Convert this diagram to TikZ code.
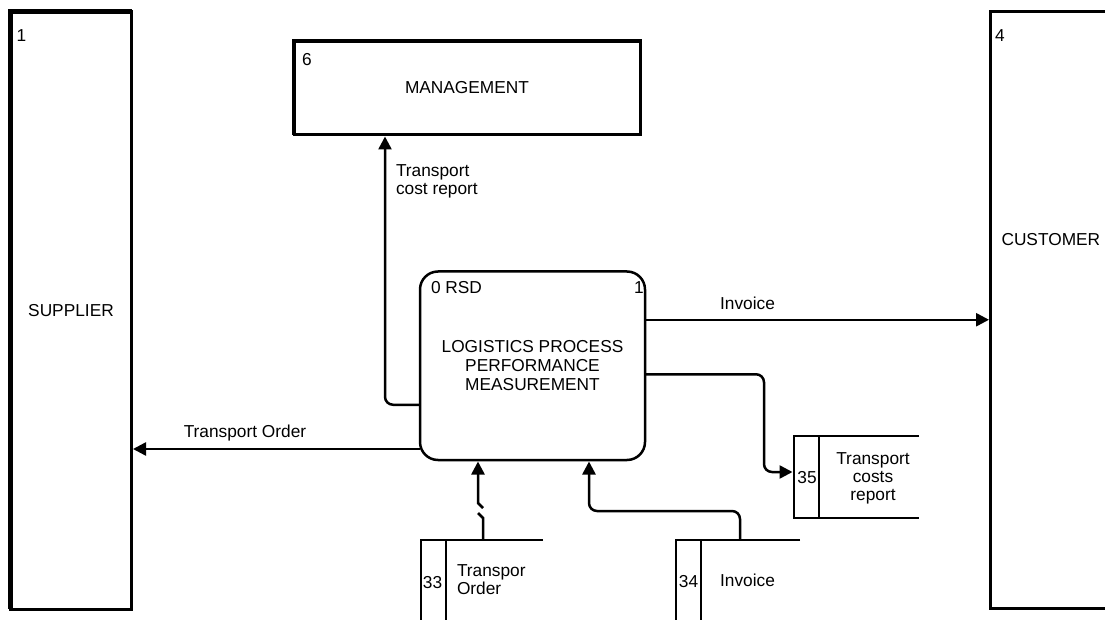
\documentclass[tikz,border=0pt]{standalone}
\usepackage{fontspec}
\setmainfont{Liberation Sans}
\usetikzlibrary{calc,arrows.meta}
\tikzset{
	entity/.style={draw, line width=3pt, inner sep=0pt, outer sep=0pt, font=\fontsize{17.3}{19}\selectfont},
	procbox/.style={draw, line width=2.5pt, rounded corners=18pt, inner sep=0pt, outer sep=0pt, align=center, font=\fontsize{17.3}{19}\selectfont},
	store/.style={inner sep=0pt, outer sep=0pt},
	storeline/.style={line width=2.5pt},
	flow/.style={line width=2.5pt, rounded corners=8pt, shorten >=1.5pt, -{Triangle[length=13pt,width=13pt]}},
	lbl/.style={inner sep=0pt, outer sep=0pt, text height=12.4pt, text depth=0pt, font=\fontsize{17.3}{18}\selectfont},
	txt/.style={inner sep=0pt, outer sep=0pt, font=\fontsize{17.3}{18}\selectfont},
}

\begin{document}
\begin{tikzpicture}[x=1pt, y=-1pt]
			%%%%% START %%%%%
			\useasboundingbox (0,0) rectangle (1105,620);
			
			\node[entity, minimum width=121pt, minimum height=597pt] (sup) at (71,310.5) {SUPPLIER};
			\draw[line width=5pt] (sup.south west) -- (sup.north west) -- (sup.north east);
			\node[lbl] (supnum) at ($(sup.north west)+(11,23)$) {1};
			
			\node[entity, minimum width=129.5pt, minimum height=597pt] (cust) at (1055.25,310) {};
			\node[lbl] (custnum) at ($(cust.north west)+(9.5,23.5)$) {4};
			\node[lbl, anchor=west] (custname) at ($(cust.west)+(11,-71)$) {CUSTOMER};
			
			\node[entity, minimum width=346pt, minimum height=94pt] (mgmt) at (467,88) {MANAGEMENT};
			\draw[line width=4.5pt] (mgmt.south west) -- (mgmt.north west) -- (mgmt.north east);
			\node[lbl] (mgmtnum) at ($(mgmt.north west)+(13,18)$) {6};
			
			\node[procbox, minimum width=225pt, minimum height=188.5pt] (proc) at (532.5,365.75) {LOGISTICS PROCESS\\PERFORMANCE\\MEASUREMENT};
			\node[lbl, anchor=west] (procid) at ($(proc.north west)+(11,15.5)$) {0 RSD};
			\node[lbl] (procnum) at ($(proc.north east)+(-6,15.5)$) {1};
			
			\node[store, minimum width=122pt, minimum height=110pt] (ds33) at (482,595) {};
			\node[store, minimum width=124pt, minimum height=110pt] (ds34) at (738,595) {};
			\node[store, minimum width=125pt, minimum height=82pt] (ds35) at (856.5,477) {};
			\foreach \s in {ds33,ds34,ds35}
				\draw[storeline] (\s.north east) -- (\s.north west) -- (\s.south west) -- (\s.south east)
					($(\s.north west)+(25,0)$) -- ($(\s.south west)+(25,0)$);
			
			\node[lbl] (ds33num) at ($(ds33.north west)+(11.5,42.5)$) {33};
			\node[txt, anchor=north west, align=left] (ds33name) at ($(ds33.north west)+(36,25)$) {Transpor\\Order};
			\node[lbl] (ds34num) at ($(ds34.north west)+(12.5,41.5)$) {34};
			\node[lbl] (ds34name) at ($(ds34.north west)+(71.5,40)$) {Invoice};
			\node[lbl] (ds35num) at ($(ds35.west)+(13,0.5)$) {35};
			\node[txt, anchor=north, align=center] (ds35name) at ($(ds35.north west)+(79,17)$) {Transport\\costs\\report};
			
			% flows
			\draw[flow] ($(proc.west)+(0,39)$) -| ($(mgmt.south west)+(91,0)$);
			\node[txt, anchor=north west, align=left] (lcost) at (396,165) {Transport\\cost report};
			
			\draw[flow] ($(proc.east)+(0,-46)$) coordinate (inv) -- (inv -| cust.west);
			\node[lbl] (linv) at (747.5,303.5) {Invoice};
			
			\draw[flow] ($(proc.east)+(0,8.5)$) -- ++(119,0) |- ($(ds35.west)+(0,-5)$);
			
			\draw[flow] ($(proc.south west)+(0,-11)$) coordinate (tro) -- (tro -| sup.east);
			\node[lbl] (ltro) at (245,431) {Transport Order};
			
			\draw[storeline] ($(ds33.north west)+(62,0)$) -- ++(0,-22) -- ++(-5,-5);
			\draw[flow, sharp corners] ($(ds33.north west)+(62,-32)$) -- ++(-5,-5) -- ($(proc.south west)+(58,0)$);
			
			\draw[flow] ($(ds34.north west)+(64,0)$) -- ++(0,-29) -| ($(proc.south west)+(169,0)$);
			
			%%%%% END %%%%%
\end{tikzpicture}
\end{document}
